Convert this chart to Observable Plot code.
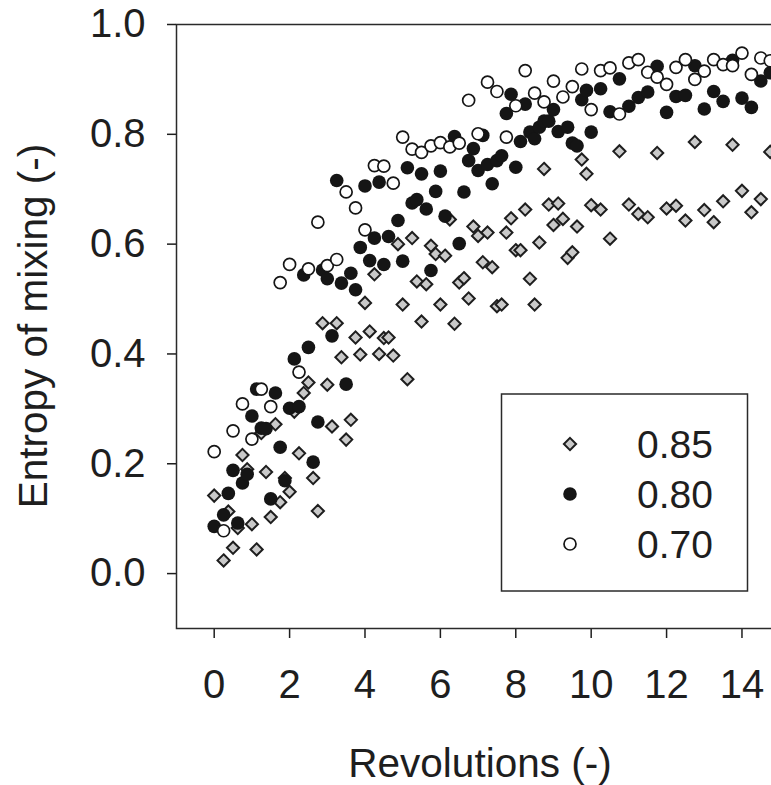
<!DOCTYPE html>
<html>
<head>
<meta charset="utf-8">
<script src="https://cdn.jsdelivr.net/npm/d3@7"></script>
<script src="https://cdn.jsdelivr.net/npm/@observablehq/plot@0.6"></script>
<style>
html, body { margin: 0; padding: 0; background: #fff; }
#chart { width: 771px; height: 785px; overflow: hidden; position: relative; }
#chart svg { display: block; max-width: none !important; width: 782px !important; height: 785px !important; }
</style>
</head>
<body>
<div id="chart"></div>
<script>
// ---- data ----
const seriesNames = ["0.85", "0.80", "0.70"];

const x085 = [0,0.25,0.375,0.5,0.625,0.75,0.875,1,1.125,1.25,1.375,1.5,1.625,1.75,1.875,2,2.125,2.25,2.375,2.5,2.625,2.75,2.875,3,3.125,3.25,3.375,3.5,3.625,3.75,3.875,4,4.125,4.25,4.375,4.5,4.625,4.75,4.875,5,5.125,5.25,5.375,5.5,5.625,5.75,5.875,6,6.125,6.25,6.375,6.5,6.625,6.75,6.875,7,7.125,7.25,7.375,7.5,7.625,7.75,7.875,8,8.125,8.25,8.375,8.5,8.625,8.75,8.875,9,9.125,9.25,9.375,9.5,9.625,9.75,9.875,10,10.25,10.5,10.75,11,11.25,11.5,11.75,12,12.25,12.5,12.75,13,13.25,13.5,13.75,14,14.25,14.5,14.75];
const y085 = [0.142,0.024,0.113,0.047,0.083,0.216,0.190,0.090,0.044,0.256,0.185,0.103,0.272,0.130,0.174,0.149,0.295,0.219,0.329,0.348,0.174,0.114,0.456,0.344,0.268,0.456,0.394,0.244,0.280,0.430,0.399,0.493,0.441,0.545,0.400,0.429,0.430,0.397,0.600,0.490,0.354,0.611,0.532,0.459,0.527,0.597,0.582,0.490,0.579,0.645,0.455,0.530,0.538,0.501,0.632,0.615,0.567,0.621,0.558,0.487,0.490,0.621,0.647,0.589,0.589,0.663,0.537,0.490,0.603,0.737,0.672,0.635,0.674,0.646,0.575,0.585,0.632,0.754,0.728,0.671,0.663,0.610,0.769,0.672,0.655,0.649,0.766,0.665,0.670,0.643,0.786,0.662,0.640,0.678,0.781,0.697,0.658,0.682,0.768];

const x080 = [0,0.25,0.375,0.5,0.625,0.75,0.875,1,1.125,1.25,1.375,1.5,1.625,1.75,1.875,2,2.125,2.25,2.375,2.5,2.625,2.75,2.875,3,3.125,3.25,3.375,3.5,3.625,3.75,3.875,4,4.125,4.25,4.375,4.5,4.625,4.875,5,5.125,5.25,5.375,5.5,5.625,5.75,5.875,6,6.125,6.375,6.5,6.625,6.75,6.875,7,7.125,7.25,7.375,7.5,7.625,7.75,7.875,8,8.125,8.25,8.375,8.5,8.625,8.75,8.875,9,9.125,9.375,9.5,9.625,9.75,9.875,10,10.25,10.5,10.75,11,11.25,11.5,11.75,12,12.25,12.5,12.75,13,13.25,13.5,13.75,14,14.25,14.5,14.75];
const y080 = [0.086,0.107,0.146,0.188,0.092,0.165,0.181,0.287,0.336,0.265,0.264,0.136,0.329,0.230,0.169,0.301,0.391,0.304,0.544,0.412,0.203,0.276,0.553,0.537,0.433,0.716,0.529,0.345,0.547,0.517,0.594,0.706,0.570,0.611,0.713,0.563,0.614,0.643,0.569,0.739,0.675,0.681,0.728,0.664,0.552,0.696,0.733,0.651,0.796,0.601,0.695,0.752,0.774,0.734,0.798,0.745,0.710,0.752,0.761,0.838,0.873,0.740,0.787,0.855,0.804,0.792,0.813,0.824,0.824,0.845,0.805,0.813,0.784,0.779,0.863,0.880,0.804,0.883,0.841,0.901,0.851,0.867,0.877,0.924,0.840,0.869,0.871,0.925,0.846,0.878,0.860,0.935,0.866,0.849,0.897,0.912];

const x070 = [0,0.25,0.5,0.75,1,1.25,1.5,1.75,2,2.25,2.5,2.75,3,3.25,3.5,3.75,4,4.25,4.5,4.75,5,5.25,5.5,5.75,6,6.25,6.5,6.75,7,7.25,7.5,7.75,8,8.25,8.5,8.75,9,9.25,9.5,9.75,10,10.25,10.5,10.75,11,11.25,11.5,11.75,12,12.25,12.5,12.75,13,13.25,13.5,13.75,14,14.25,14.5,14.75];
const y070 = [0.222,0.078,0.260,0.309,0.245,0.336,0.304,0.530,0.563,0.367,0.555,0.640,0.561,0.572,0.695,0.666,0.626,0.743,0.742,0.711,0.795,0.773,0.767,0.779,0.785,0.777,0.784,0.862,0.801,0.895,0.878,0.795,0.852,0.916,0.875,0.859,0.897,0.868,0.887,0.919,0.845,0.916,0.921,0.837,0.930,0.936,0.913,0.904,0.891,0.922,0.936,0.900,0.915,0.936,0.927,0.925,0.948,0.909,0.939,0.934];

const xTicks = [0, 2, 4, 6, 8, 10, 12, 14];
const yTicks = [0, 0.2, 0.4, 0.6, 0.8, 1.0];
const xTitle = "Revolutions (-)";
const yTitle = "Entropy of mixing (-)";

// ---- build tables ----
const toRows = (xs, ys) => xs.map((x, i) => ({x, y: ys[i]}));
const d085 = toRows(x085, y085);
const d080 = toRows(x080, y080);
const d070 = toRows(x070, y070);

const FONT = "'Liberation Sans', Arial, Helvetica, sans-serif";
const INK = "#1e1e1e";

const styles = {
  "0.85": {symbol: "diamond2", r: 5.5, fill: "#c9c9c9", stroke: "#1e1e1e", strokeWidth: 2},
  "0.80": {symbol: "circle", r: 6.8, fill: "#151515", stroke: "none", strokeWidth: 0},
  "0.70": {symbol: "circle", r: 6.0, fill: "#ffffff", stroke: "#151515", strokeWidth: 1.7}
};

const plot = Plot.plot({
  width: 782,
  height: 785,
  marginLeft: 176,
  marginRight: 6.6,
  marginTop: 24,
  marginBottom: 157,
  style: {fontFamily: FONT, fontSize: "40px", color: INK, background: "#fff", overflow: "visible", maxWidth: "none"},
  x: {domain: [-1, 14.9], ticks: xTicks, tickSize: 10, tickPadding: 31, tickFormat: d => String(d), label: null},
  y: {domain: [-0.1, 1.0], ticks: yTicks, tickSize: 9, tickPadding: 22, tickFormat: ".1f", label: null},
  marks: [
    Plot.frame({stroke: "#2a2a2a", strokeWidth: 1.5}),
    Plot.dot(d085, {x: "x", y: "y", ...styles["0.85"]}),
    Plot.dot(d080, {x: "x", y: "y", ...styles["0.80"]}),
    Plot.dot(d070, {x: "x", y: "y", ...styles["0.70"]})
  ]
});

document.getElementById("chart").appendChild(plot);

const svg = d3.select(plot);
svg.style("max-width", "none").style("width", "782px").style("height", "785px");
svg.selectAll('g[aria-label^="x-axis"] path, g[aria-label^="y-axis"] path, g[aria-label^="x-axis"] line, g[aria-label^="y-axis"] line')
  .attr("stroke-width", 1.5);

// axis titles
svg.append("text")
  .attr("x", 480).attr("y", 777)
  .attr("text-anchor", "middle")
  .attr("font-family", FONT).attr("font-size", 40.5).attr("fill", INK)
  .text(xTitle);

svg.append("text")
  .attr("transform", "translate(47,326) rotate(-90)")
  .attr("text-anchor", "middle")
  .attr("font-family", FONT).attr("font-size", 40.5).attr("fill", INK)
  .text(yTitle);

// legend
const lg = svg.append("g");
lg.append("rect")
  .attr("x", 501.5).attr("y", 394).attr("width", 246).attr("height", 197)
  .attr("fill", "#fff").attr("stroke", "#2a2a2a").attr("stroke-width", 1.5);
const symbolTypes = {circle: d3.symbolCircle, diamond2: d3.symbolDiamond2};
seriesNames.forEach((name, i) => {
  const s = styles[name];
  const cy = 444 + i * 50;
  lg.append("path")
    .attr("transform", `translate(570,${cy})`)
    .attr("d", d3.symbol(symbolTypes[s.symbol], Math.PI * s.r * s.r)())
    .attr("fill", s.fill).attr("stroke", s.stroke).attr("stroke-width", s.strokeWidth);
  lg.append("text")
    .attr("x", 637).attr("y", cy + 14)
    .attr("text-anchor", "start")
    .attr("font-family", FONT).attr("font-size", 39).attr("fill", INK)
    .text(name);
});
</script>
</body>
</html>
